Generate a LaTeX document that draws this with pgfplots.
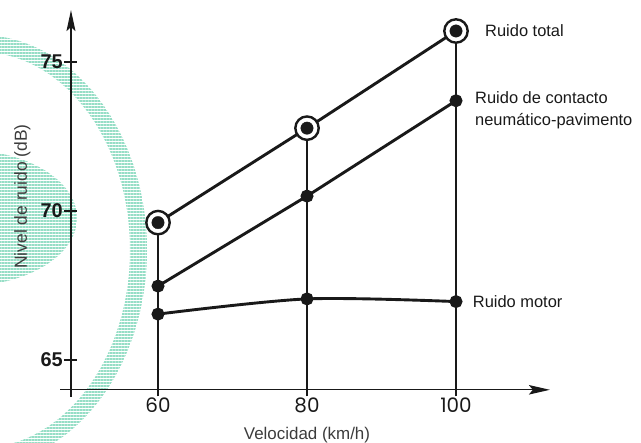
\documentclass[border=0pt]{standalone}
\usepackage{pgfplots}
\pgfplotsset{compat=1.18}
\usepackage{fontspec}
\setmainfont{Liberation Sans}
\newfontfamily\xtickfont{Poppins}
\usetikzlibrary{arrows.meta,patterns.meta,backgrounds}

\definecolor{ink}{RGB}{25,25,25}
\definecolor{labelgray}{RGB}{60,60,60}
\definecolor{wmark}{RGB}{150,222,198}

\begin{document}
\begin{tikzpicture}
\begin{axis}[
  x=7.45bp, y=29.8bp,
  xmin=48.32, xmax=112.6, ymin=64, ymax=76.74,
  axis lines=left,
  axis line style={line width=1.2bp, draw=ink},
  x axis line style={-{Stealth[length=21bp,width=9.5bp,inset=4bp]}, shorten <=-10.5bp},
  y axis line style={-{Stealth[length=21bp,width=9bp,inset=4bp]}, shorten <=-7bp},
  xtick={60,80,100}, ytick={65,70,75},
  tick align=center, major tick length=13bp,
  tick style={line width=1.2bp, draw=ink},
  /pgf/number format/assume math mode=true,
  yticklabel style={font=\bfseries\fontsize{20}{20}\selectfont, text=ink, inner sep=0pt, anchor=east, xshift=-1.5bp},
  xticklabel style={font=\xtickfont\fontsize{20}{20}\selectfont, text=ink, inner sep=0pt, anchor=north, yshift=-1bp},
  xlabel={Velocidad (km/h)},
  xlabel style={at={(axis cs:80,62.332)}, anchor=base, inner sep=0pt, font=\fontsize{17}{17}\selectfont, text=labelgray},
  ylabel={Nivel de ruido (dB)},
  ylabel style={at={(axis cs:42.416,70.487)}, anchor=base, rotate=0, inner sep=0pt, font=\fontsize{17.5}{17.5}\selectfont, text=labelgray},
  clip=false,
]
\coordinate (TL) at (axis cs:38.792,77.08);
\coordinate (BR) at (axis cs:124.83,62.215);

% drop lines from the top points
\addplot[line width=1.1bp, ink] coordinates {(60,69.61) (60,64)};
\addplot[line width=1.1bp, ink] coordinates {(80,72.78) (80,64)};
\addplot[line width=1.1bp, ink] coordinates {(100,76.04) (100,64)};

% Ruido motor
\addplot[line width=2.9bp, ink, smooth, mark=*, mark size=5bp] coordinates {(60,66.54) (80,67.05) (100,66.96)};
% Ruido de contacto
\addplot[line width=2.9bp, ink, mark=*, mark size=5bp] coordinates {(60,67.48) (80,70.50) (100,73.70)};
% Ruido total
\addplot[line width=2.9bp, ink, mark=*, mark size=11.7bp, mark options={fill=white, line width=2.4bp}] coordinates {(60,69.61) (80,72.78) (100,76.04)};
\addplot[only marks, ink, mark=*, mark size=6.2bp] coordinates {(60,69.61) (80,72.78) (100,76.04)};

\node[anchor=west, inner sep=0pt, xshift=29bp, font=\fontsize{16.5}{20}\selectfont, text=ink] at (axis cs:100,76.04) {Ruido total};
\node[anchor=north west, align=left, inner sep=0pt, xshift=19bp, yshift=9bp, font=\fontsize{16.5}{22}\selectfont, text=ink] at (axis cs:100,73.70) {Ruido de contacto\\neumático-pavimento};
\node[anchor=west, inner sep=0pt, xshift=16.7bp, font=\fontsize{16.5}{20}\selectfont, text=ink] at (axis cs:100,66.96) {Ruido motor};
\end{axis}

\begin{scope}[on background layer, shift={(TL)}, x=1bp, y=-1bp]
  \fill[pattern={Lines[angle=0,distance=3bp,line width=1.1bp]}, pattern color=wmark, even odd rule]
    (-20,250) ellipse [x radius=167, y radius=215]
    (-20,250) ellipse [x radius=150, y radius=198];
  \fill[pattern={Lines[angle=0,distance=3bp,line width=1.1bp]}, pattern color=wmark]
    (-35,218) ellipse [x radius=112, y radius=68];
\end{scope}

\pgfresetboundingbox
\path (TL) rectangle (BR);
\end{tikzpicture}
\end{document}
